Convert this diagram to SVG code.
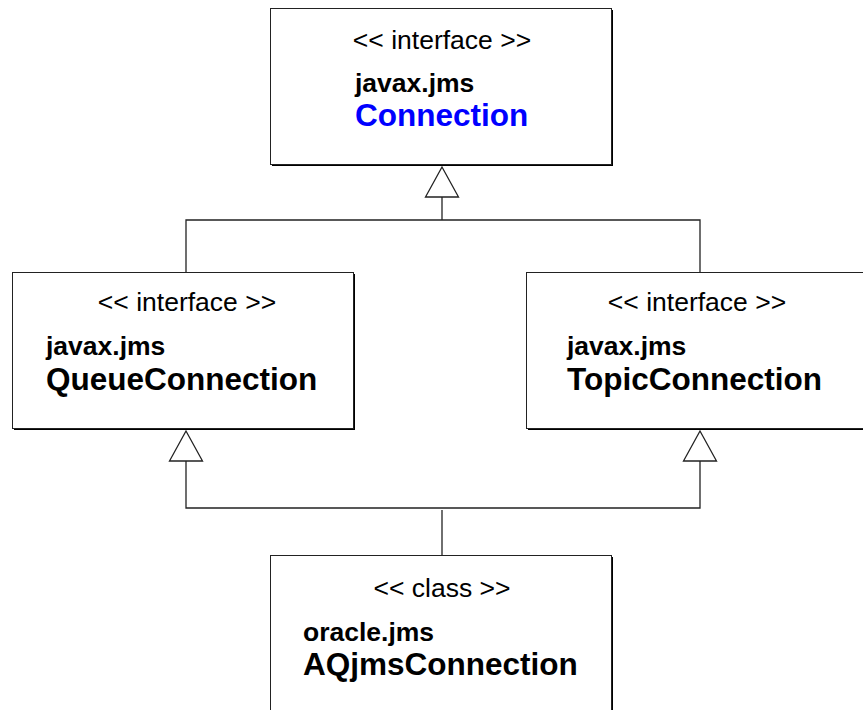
<svg xmlns="http://www.w3.org/2000/svg" width="863" height="710" viewBox="0 0 863 710">
<style>
.shadow{fill:#000}
.box{fill:#fff;stroke:#222;stroke-width:1}
.st{font-family:"Liberation Sans",Arial,sans-serif;font-size:26.5px;fill:#000;text-anchor:middle}
.pk{font-family:"Liberation Sans",Arial,sans-serif;font-size:26.5px;font-weight:bold;fill:#000}
.nm{font-family:"Liberation Sans",Arial,sans-serif;font-size:31.5px;font-weight:bold;fill:#000}
.conn{fill:none;stroke:#222;stroke-width:1.3}
.head{fill:#fff;stroke:#222;stroke-width:1.3}
</style>
<rect width="863" height="710" fill="#fff"/>
<g id="connectors">
<polyline class="conn" points="442,197 442,220"/>
<polyline class="conn" points="186,272 186,220 700,220 700,272"/>
<polygon class="head" points="442,167 425.5,197 458.5,197"/>
<polyline class="conn" points="186,461 186,508 700,508 700,461"/>
<polyline class="conn" points="442,510 442,556"/>
<polygon class="head" points="186,431 169.5,461 202.5,461"/>
<polygon class="head" points="700,431 683.5,461 716.5,461"/>
</g>
<g id="Connection">
<rect class="shadow" x="272" y="10" width="341" height="156"/>
<rect class="box" x="270.5" y="8.5" width="341" height="156"/>
<text class="st" x="442" y="49">&lt;&lt; interface &gt;&gt;</text>
<text class="pk" x="355" y="91.5">javax.jms</text>
<text class="nm" x="355" y="126" style="fill:#0000ff">Connection</text>
</g>
<g id="QueueConnection">
<rect class="shadow" x="14" y="274" width="341" height="156"/>
<rect class="box" x="12.5" y="272.5" width="341" height="156"/>
<text class="st" x="187" y="311">&lt;&lt; interface &gt;&gt;</text>
<text class="pk" x="46" y="355">javax.jms</text>
<text class="nm" x="46" y="390">QueueConnection</text>
</g>
<g id="TopicConnection">
<rect class="shadow" x="528" y="274" width="341" height="156"/>
<rect class="box" x="526.5" y="272.5" width="341" height="156"/>
<text class="st" x="697" y="311">&lt;&lt; interface &gt;&gt;</text>
<text class="pk" x="567" y="355">javax.jms</text>
<text class="nm" x="567" y="390">TopicConnection</text>
</g>
<g id="AQjmsConnection">
<rect class="shadow" x="272" y="557" width="341" height="156"/>
<rect class="box" x="270.5" y="555.5" width="341" height="156"/>
<text class="st" x="442" y="597">&lt;&lt; class &gt;&gt;</text>
<text class="pk" x="303" y="640.5">oracle.jms</text>
<text class="nm" x="303" y="675">AQjmsConnection</text>
</g>
</svg>
